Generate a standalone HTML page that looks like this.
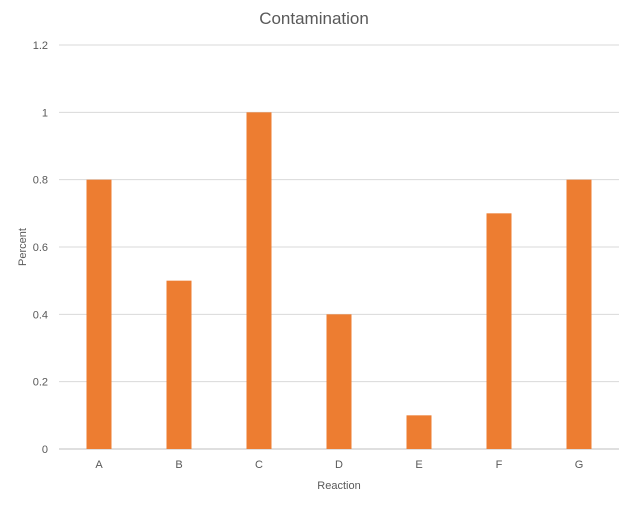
<!DOCTYPE html>
<html><head><meta charset="utf-8"><style>
body{margin:0;background:#fff;}
svg{display:block;font-family:"Liberation Sans",sans-serif;}
</style></head><body>
<svg id="chart" width="629" height="509">
<rect width="629" height="509" fill="#fff"/>
<text x="314" y="24" text-anchor="middle" font-size="17" fill="#595959">Contamination</text>
<text transform="translate(26,247) rotate(-90)" text-anchor="middle" font-size="11" fill="#595959">Percent</text>
<text x="339" y="489" text-anchor="middle" font-size="11" fill="#595959">Reaction</text>
<g id="grid"></g><g id="bars"></g><g id="labels"></g>
</svg>
<script>
const categories=["A","B","C","D","E","F","G"];
const values=[0.8,0.5,1.0,0.4,0.1,0.7,0.8];
const yTicks=[0,0.2,0.4,0.6,0.8,1,1.2];
const yTickLabels=["0","0.2","0.4","0.6","0.8","1","1.2"];
const NS="http://www.w3.org/2000/svg";
const x0=59,x1=619,yBase=449,yTop=45,yMax=1.2;
const band=(x1-x0)/categories.length,bw=25;
function y(v){return yBase-(v/yMax)*(yBase-yTop);}
function xc(i){return x0+band*(i+0.5);}
const grid=document.getElementById('grid'),bars=document.getElementById('bars'),labels=document.getElementById('labels');
yTicks.forEach((t,i)=>{
 const l=document.createElementNS(NS,'line');
 l.setAttribute('x1',x0);l.setAttribute('x2',x1);l.setAttribute('y1',y(t));l.setAttribute('y2',y(t));
 l.setAttribute('stroke',i===0?'#bfbfbf':'#d9d9d9');l.setAttribute('stroke-width','1');
 
 
 grid.appendChild(l);
 const tx=document.createElementNS(NS,'text');
 tx.setAttribute('x',48);tx.setAttribute('y',y(t)+4);tx.setAttribute('text-anchor','end');
 tx.setAttribute('font-size','11');tx.setAttribute('fill','#595959');tx.textContent=yTickLabels[i];
 
 
 labels.appendChild(tx);
});
categories.forEach((c,i)=>{
 const r=document.createElementNS(NS,'rect');
 r.setAttribute('x',xc(i)-bw/2);r.setAttribute('y',y(values[i]));r.setAttribute('width',bw);r.setAttribute('height',yBase-y(values[i]));
 r.setAttribute('fill','#ed7d31');
 
 
 bars.appendChild(r);
 const tx=document.createElementNS(NS,'text');
 tx.setAttribute('x',xc(i));tx.setAttribute('y',468);tx.setAttribute('text-anchor','middle');
 tx.setAttribute('font-size','11');tx.setAttribute('fill','#595959');tx.textContent=c;
 
 
 labels.appendChild(tx);
});
</script>
</body></html>
